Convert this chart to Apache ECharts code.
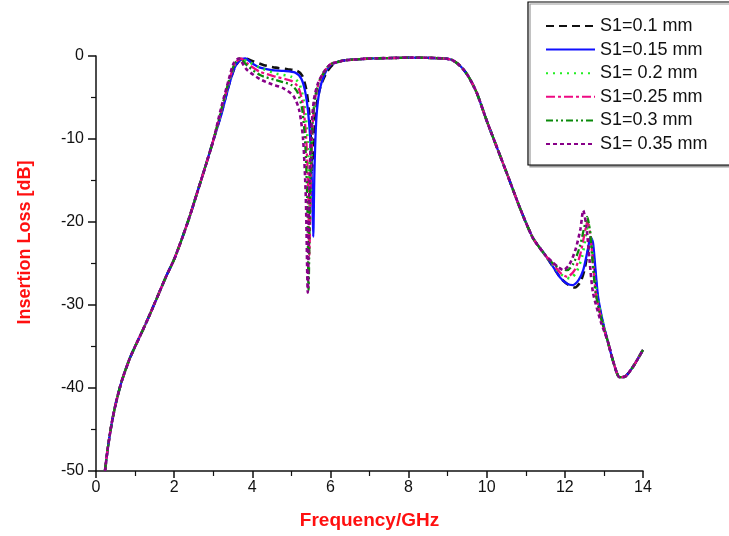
<!DOCTYPE html>
<html>
<head>
<meta charset="utf-8">
<script src="https://cdn.jsdelivr.net/npm/echarts@6/dist/echarts.min.js"></script>
<style>html,body{margin:0;padding:0;background:#fff;}#chart{width:729px;height:536px;}</style>
</head>
<body>
<div id="chart"></div>
<script>
// ---- data ----
var seriesNames = ['S1=0.1 mm', 'S1=0.15 mm', 'S1= 0.2 mm', 'S1=0.25 mm', 'S1=0.3 mm', 'S1= 0.35 mm'];
var xTicks = [0, 2, 4, 6, 8, 10, 12, 14];
var yTicks = [-50, -40, -30, -20, -10, 0];

// shared lower skirt
var lowFreq = [0.23, 0.3, 0.4, 0.5, 0.65, 0.85, 1.0, 1.2, 1.4, 1.6, 1.8, 2.0, 2.2, 2.4, 2.6, 2.8, 3.0];
var lowLoss = [-50, -47.3, -44.3, -42.0, -39.3, -36.6, -35.0, -33.0, -30.9, -28.7, -26.5, -24.5, -22.0, -19.3, -16.3, -13.3, -10.2];

// shared passband and upper skirt
var midFreq = [6.4, 6.7, 7.0, 7.5, 8.0, 8.5, 8.9, 9.1, 9.25, 9.4, 9.55, 9.75, 10.0, 10.26, 10.52, 10.85, 11.18, 11.5];
var midLoss = [-0.5, -0.4, -0.3, -0.25, -0.2, -0.22, -0.3, -0.45, -0.9, -1.6, -2.6, -4.5, -7.8, -11.0, -14.2, -18.3, -21.9, -24.0];

// shared tail
var tailFreq = [13.1, 13.25, 13.4, 13.55, 13.75, 14.0];
var tailLoss = [-34.4, -37.0, -38.7, -38.6, -37.4, -35.4];

// notch region per series
var edgeFreq010 = [3.2, 3.4, 3.55, 3.68, 3.82, 4.0, 4.3, 4.6, 4.9, 5.15, 5.28, 5.38, 5.45, 5.5, 5.53, 5.56, 5.6, 5.66, 5.75, 5.9, 6.05, 6.2];
var edgeLoss010 = [-7.0, -3.5, -1.4, -0.5, -0.3, -0.6, -1.1, -1.4, -1.6, -1.8, -2.4, -4.0, -6.5, -10.0, -14.0, -11.0, -8.0, -5.5, -3.6, -2.0, -1.1, -0.7];
var edgeFreq015 = [3.2, 3.4, 3.55, 3.68, 3.82, 4.0, 4.2, 4.5, 4.8, 5.1, 5.25, 5.35, 5.43, 5.49, 5.53, 5.56, 5.59, 5.64, 5.72, 5.85, 6.0, 6.2];
var edgeLoss015 = [-7.2, -3.6, -1.4, -0.5, -0.3, -0.9, -1.4, -1.7, -1.8, -2.0, -2.7, -4.2, -6.8, -10.5, -16.0, -21.8, -14.0, -7.5, -4.2, -2.2, -1.1, -0.7];
var edgeFreq020 = [3.2, 3.4, 3.55, 3.7, 3.9, 4.2, 4.6, 5.0, 5.2, 5.32, 5.4, 5.45, 5.48, 5.51, 5.55, 5.62, 5.72, 5.85, 6.0, 6.2];
var edgeLoss020 = [-6.8, -3.2, -1.1, -0.3, -0.7, -1.4, -2.1, -2.5, -3.3, -5.5, -9.0, -14.0, -20.0, -13.0, -8.0, -4.8, -3.0, -1.8, -1.0, -0.7];
var edgeFreq025 = [3.2, 3.4, 3.55, 3.7, 3.9, 4.2, 4.6, 5.0, 5.18, 5.3, 5.38, 5.43, 5.46, 5.5, 5.55, 5.62, 5.72, 5.85, 6.0, 6.2];
var edgeLoss025 = [-6.7, -3.1, -1.0, -0.3, -1.0, -1.9, -2.5, -3.0, -3.8, -6.0, -10.0, -16.0, -24.0, -14.0, -8.0, -4.8, -3.0, -1.8, -1.0, -0.7];
var edgeFreq030 = [3.2, 3.4, 3.55, 3.68, 3.88, 4.2, 4.6, 5.0, 5.16, 5.28, 5.36, 5.41, 5.44, 5.48, 5.53, 5.6, 5.7, 5.85, 6.0, 6.2];
var edgeLoss030 = [-6.6, -3.0, -0.9, -0.3, -1.2, -2.3, -2.9, -3.5, -4.4, -6.5, -11.0, -18.0, -28.2, -16.0, -9.0, -5.2, -3.2, -1.9, -1.0, -0.7];
var edgeFreq035 = [3.2, 3.4, 3.52, 3.65, 3.85, 4.2, 4.5, 4.8, 5.05, 5.2, 5.3, 5.37, 5.42, 5.46, 5.51, 5.58, 5.68, 5.82, 6.0, 6.2];
var edgeLoss035 = [-6.3, -2.8, -0.9, -0.3, -1.6, -2.8, -3.4, -3.9, -4.8, -6.5, -10.0, -17.0, -28.5, -16.0, -9.0, -5.2, -3.3, -2.0, -1.0, -0.7];

// upper spike region per series
var peakFreq010 = [11.7, 11.9, 12.1, 12.26, 12.4, 12.5, 12.58, 12.65, 12.72, 12.78, 12.85, 12.98];
var peakLoss010 = [-25.4, -26.8, -27.6, -27.9, -27.2, -25.8, -23.8, -22.3, -23.5, -26.5, -29.5, -32.4];
var peakFreq015 = [11.7, 11.88, 12.05, 12.2, 12.35, 12.47, 12.58, 12.66, 12.72, 12.78, 12.85, 12.98];
var peakLoss015 = [-25.4, -26.7, -27.4, -27.6, -27.0, -25.8, -23.5, -21.8, -22.5, -25.5, -29.0, -32.2];
var peakFreq020 = [11.7, 11.9, 12.13, 12.3, 12.45, 12.54, 12.6, 12.67, 12.74, 12.82, 12.98];
var peakLoss020 = [-25.2, -26.3, -26.8, -26.0, -24.0, -21.5, -20.2, -22.0, -25.5, -28.8, -32.2];
var peakFreq025 = [11.7, 11.9, 12.06, 12.25, 12.4, 12.5, 12.58, 12.65, 12.72, 12.8, 12.96];
var peakLoss025 = [-25.1, -26.2, -26.6, -25.8, -23.8, -21.5, -20.0, -21.5, -25.0, -28.8, -32.2];
var peakFreq030 = [11.7, 11.88, 12.06, 12.22, 12.38, 12.48, 12.57, 12.64, 12.71, 12.79, 12.96];
var peakLoss030 = [-25.0, -25.6, -25.8, -25.0, -23.0, -21.0, -19.4, -21.0, -24.8, -28.6, -32.2];
var peakFreq035 = [11.7, 11.85, 11.96, 12.12, 12.28, 12.4, 12.47, 12.55, 12.63, 12.72, 12.92];
var peakLoss035 = [-24.9, -25.5, -25.8, -25.1, -23.2, -20.8, -18.6, -20.5, -24.5, -28.5, -32.0];

// ---- build ----
function pairs(fs, ls) { var out = []; for (var i = 0; i < fs.length; i++) out.push([fs[i], ls[i]]); return out; }
function build(ef, el, pf, pl) {
  return [].concat(pairs(lowFreq, lowLoss), pairs(ef, el), pairs(midFreq, midLoss), pairs(pf, pl), pairs(tailFreq, tailLoss));
}
var dataSets = [
  build(edgeFreq010, edgeLoss010, peakFreq010, peakLoss010),
  build(edgeFreq015, edgeLoss015, peakFreq015, peakLoss015),
  build(edgeFreq020, edgeLoss020, peakFreq020, peakLoss020),
  build(edgeFreq025, edgeLoss025, peakFreq025, peakLoss025),
  build(edgeFreq030, edgeLoss030, peakFreq030, peakLoss030),
  build(edgeFreq035, edgeLoss035, peakFreq035, peakLoss035)
];
var styles = [
  { color: '#111111', width: 2.6, type: [8, 5] },
  { color: '#1010ff', width: 2.3, type: 'solid' },
  { color: '#22ee22', width: 2.6, type: [2, 5] },
  { color: '#ee0a82', width: 2.3, type: [9, 3, 3, 3] },
  { color: '#0a8a0a', width: 2.3, type: [7, 3, 2, 3, 2, 3] },
  { color: '#880088', width: 2.6, type: [4, 3] }
];
var series = seriesNames.map(function (n, i) {
  return {
    name: n, type: 'line', data: dataSets[i], showSymbol: false, symbol: 'none',
    smooth: 0.25, itemStyle: { color: styles[i].color },
    lineStyle: { color: styles[i].color, width: styles[i].width, type: styles[i].type }
  };
});

var font = '"Liberation Sans", Arial, sans-serif';
var chart = echarts.init(document.getElementById('chart'), null, { renderer: 'canvas' });
chart.setOption({
  animation: false,
  backgroundColor: '#ffffff',
  grid: { left: 96, right: 86, top: 56, bottom: 65 },
  legend: {
    orient: 'vertical', left: 528, top: 2,
    padding: [15, 40, 12, 17], itemGap: 5.6, itemWidth: 49, itemHeight: 16,
    borderColor: '#000', borderWidth: 1.2, backgroundColor: '#fff',
    shadowColor: '#9a9a9a', shadowOffsetX: 2, shadowOffsetY: 2, shadowBlur: 0,
    itemStyle: { opacity: 0, borderWidth: 0 },
    textStyle: { fontFamily: font, fontSize: 18, color: '#111' },
    data: seriesNames
  },
  xAxis: {
    type: 'value', min: 0, max: 14, interval: 2,
    name: 'Frequency/GHz', nameLocation: 'middle', nameGap: 40,
    nameTextStyle: { fontFamily: font, fontSize: 19, fontWeight: 'bold', color: '#ff1010' },
    axisLine: { show: true, onZero: false, lineStyle: { color: '#111', width: 1.5 } },
    axisTick: { show: true, inside: false, length: 7, lineStyle: { color: '#111', width: 1.5 } },
    minorTick: { show: true, splitNumber: 2, length: 5, lineStyle: { color: '#111', width: 1.2 } },
    splitLine: { show: false },
    axisLabel: { fontFamily: font, fontSize: 16, color: '#111', margin: 9,
      formatter: function (v) { return xTicks.indexOf(v) >= 0 ? String(v) : ''; } }
  },
  yAxis: {
    type: 'value', min: -50, max: 0, interval: 10,
    name: 'Insertion Loss [dB]', nameLocation: 'middle', nameGap: 62,
    nameTextStyle: { fontFamily: font, fontSize: 18, fontWeight: 'bold', color: '#ff1010', padding: [0, 0, 0, 42] },
    axisLine: { show: true, onZero: false, lineStyle: { color: '#111', width: 1.5 } },
    axisTick: { show: true, inside: false, length: 8, lineStyle: { color: '#111', width: 1.5 } },
    minorTick: { show: true, splitNumber: 2, length: 5, lineStyle: { color: '#111', width: 1.2 } },
    splitLine: { show: false },
    axisLabel: { fontFamily: font, fontSize: 16, color: '#111', margin: 12,
      formatter: function (v) { return yTicks.indexOf(v) >= 0 ? String(v) : ''; } }
  },
  series: series
});
</script>
</body>
</html>
